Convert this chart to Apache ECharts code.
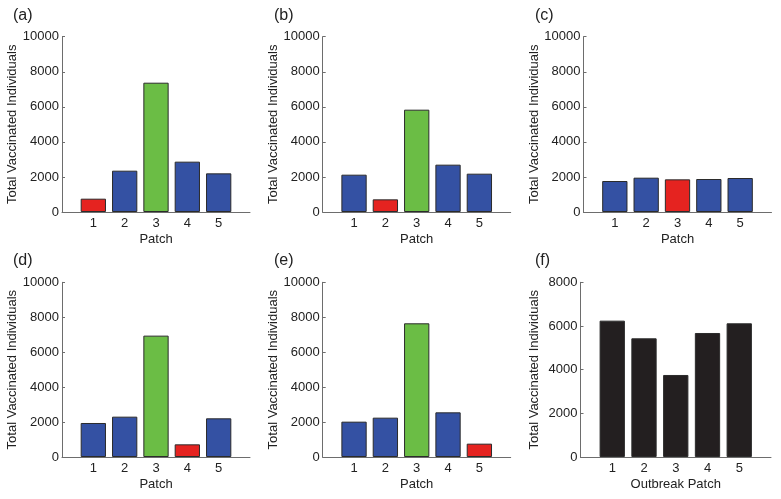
<!DOCTYPE html>
<html>
<head>
<meta charset="utf-8">
<script src="https://cdn.jsdelivr.net/npm/echarts@6/dist/echarts.min.js"></script>
<style>
html,body{margin:0;padding:0;background:#fff;}
#chart{width:781px;height:499px;}
</style>
</head>
<body>
<div id="chart"></div>
<script>
// ---- data ----
var patchLabels = ['1', '2', '3', '4', '5'];
var panelLabels = ['(a)', '(b)', '(c)', '(d)', '(e)', '(f)'];
var panelA = [760, 2357, 7376, 2871, 2205];
var panelB = [2129, 722, 5837, 2700, 2186];
var panelC = [1768, 1958, 1863, 1882, 1939];
var panelD = [1947, 2309, 6947, 725, 2214];
var panelE = [2023, 2252, 7653, 2557, 763];
var panelF = [6244, 5435, 3756, 5679, 6122];
var outbreakPatch = [1, 2, 3, 4, 5];   // red bar in panels (a)-(e)
var targetPatch = 3;                   // green bar
var yMaxes = [10000, 10000, 10000, 10000, 10000, 8000];
var xNames = ['Patch', 'Patch', 'Patch', 'Patch', 'Patch', 'Outbreak Patch'];
var yName = 'Total Vaccinated Individuals';

// ---- styling / layout ----
var FONT = '"Liberation Sans", Arial, Helvetica, sans-serif';
var FS = 13;
var lefts = [62, 322.7, 583.5, 62, 322.7, 580.5];
var tops = [36.7, 36.7, 36.7, 282.3, 282.3, 282.3];
var widths = [188, 188, 188, 188, 188, 190.5];
var heights = [175.3, 175.3, 175.3, 174.7, 174.7, 174.7];
var titlePos = [[13, 8], [274, 8], [535, 8], [13, 253], [274, 253], [535, 253]];
var BLUE = '#3451a3', RED = '#e52320', GREEN = '#6bbd45', BLACK = '#231f20';

var allData = [panelA, panelB, panelC, panelD, panelE, panelF];

var grids = [], xAxes = [], yAxes = [], series = [], titles = [];
allData.forEach(function (vals, p) {
  grids.push({left: lefts[p], top: tops[p], width: widths[p], height: heights[p], containLabel: false});
  xAxes.push({
    type: 'value', gridIndex: p, min: 0, max: 6, interval: 1,
    name: xNames[p], nameLocation: 'middle', nameGap: 21,
    nameTextStyle: {fontFamily: FONT, fontSize: FS, color: '#222'},
    axisLine: {show: true, lineStyle: {color: '#6d6d6d', width: 1}},
    axisTick: {show: false},
    splitLine: {show: false},
    axisLabel: {
      fontFamily: FONT, fontSize: FS, color: '#222', margin: 5,
      formatter: function (v) { return patchLabels[v - 1] || ''; }
    }
  });
  yAxes.push({
    type: 'value', gridIndex: p, min: 0, max: yMaxes[p], interval: 2000,
    name: yName, nameLocation: 'middle', nameRotate: 90, nameGap: 40,
    nameTextStyle: {fontFamily: FONT, fontSize: FS, color: '#222'},
    axisLine: {show: true, lineStyle: {color: '#6d6d6d', width: 1}},
    axisTick: {show: true, inside: true, length: 3, lineStyle: {color: '#6d6d6d'}},
    splitLine: {show: false},
    axisLabel: {
      fontFamily: FONT, fontSize: FS, color: '#222', margin: 3,
      formatter: function (v) { return String(v); }
    }
  });
  var data = vals.map(function (v, i) {
    var patch = i + 1, col;
    if (p === 5) col = BLACK;
    else if (patch === outbreakPatch[p]) col = RED;
    else if (patch === targetPatch) col = GREEN;
    else col = BLUE;
    return {value: [patch, v], itemStyle: {color: col}};
  });
  series.push({
    type: 'bar', xAxisIndex: p, yAxisIndex: p, data: data, barWidth: 25.3,
    itemStyle: {borderColor: '#2b2b2b', borderWidth: 1},
    silent: true, animation: false
  });
  titles.push({
    text: panelLabels[p], left: titlePos[p][0], top: titlePos[p][1], padding: 0,
    textStyle: {fontFamily: FONT, fontSize: 16, fontWeight: 'normal', color: '#222'}
  });
});

var chart = echarts.init(document.getElementById('chart'), null, {renderer: 'canvas'});
chart.setOption({
  animation: false,
  backgroundColor: '#ffffff',
  title: titles,
  grid: grids,
  xAxis: xAxes,
  yAxis: yAxes,
  series: series
});
</script>
</body>
</html>
